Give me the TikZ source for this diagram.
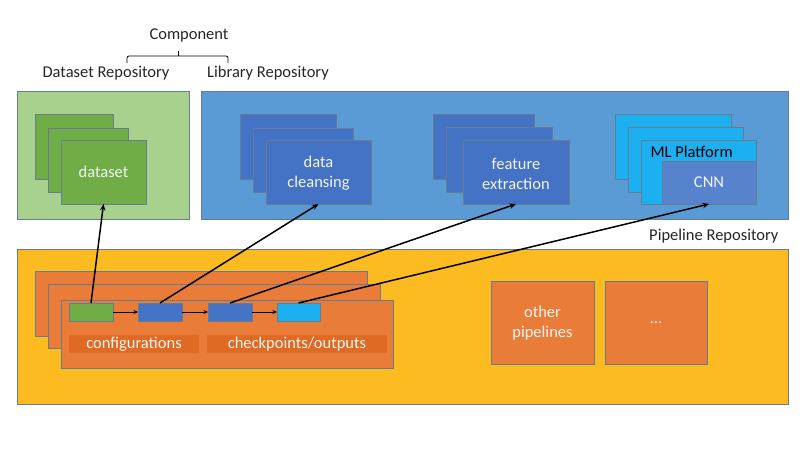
\documentclass[tikz,border=0pt]{standalone}
\usepackage{fontspec}
\setmainfont{Carlito}
\usetikzlibrary{shadows,arrows.meta}
\definecolor{lgreen}{HTML}{A9D18E}
\definecolor{dgreen}{HTML}{70AD47}
\definecolor{lblue}{HTML}{5B9BD5}
\definecolor{dblue}{HTML}{4472C4}
\definecolor{cyanbox}{HTML}{1CB0F0}
\definecolor{cnnblue}{HTML}{5683CC}
\definecolor{yellowbg}{HTML}{FDBB22}
\definecolor{orangebox}{HTML}{EA7C3A}
\definecolor{orangelab}{HTML}{DF6A24}
\definecolor{edgecol}{HTML}{687C90}
\definecolor{whitetext}{HTML}{F4F4F4}
\tikzset{
  base/.style={draw=edgecol, line width=0.6pt, inner sep=0pt, outer sep=0pt, anchor=north west,
    drop shadow={shadow xshift=1.2pt, shadow yshift=-1.2pt, opacity=0.35}},
  greenouter/.style={base, fill=lgreen},
  blueouter/.style={base, fill=lblue},
  yellowouter/.style={base, fill=yellowbg},
  gbox/.style={base, fill=dgreen},
  bbox/.style={base, fill=dblue},
  cbox/.style={base, fill=cyanbox},
  cnnbox/.style={base, fill=cnnblue},
  obox/.style={base, fill=orangebox},
  labbox/.style={fill=orangelab, inner sep=0pt, outer sep=0pt, anchor=north west},
  intext/.style={text=whitetext, font=\fontsize{16.5}{20}\selectfont, align=center},
  plain/.style={font=\fontsize{16.5}{20}\selectfont, text=black!85},
  arr/.style={-{Stealth[length=6.5pt,width=5.5pt]}, line width=1.5pt, black},
  sarr/.style={-{Stealth[length=4.5pt,width=4pt]}, line width=0.9pt, black},
}
\begin{document}
\begin{tikzpicture}[x=1pt,y=-1pt]
\useasboundingbox[fill=white] (0,0) rectangle (808,455);

% titles
\node[plain] (comp) at (189,35) {Component};
\draw[line width=0.8pt, rounded corners=2pt] (127,63) -- (127,56) -- (228,56) -- (228,63);
\draw[line width=0.8pt] (178,56) -- (178,51);
\node[plain] (dsr) at (106,73) {Dataset Repository};
\node[plain] (lbr) at (268,73) {Library Repository};

% outer areas
\node[greenouter, minimum width=172pt, minimum height=128pt] (gout) at (17,91) {};
\node[blueouter, minimum width=587pt, minimum height=128pt] (bout) at (201,91) {};
\node[yellowouter, minimum width=771pt, minimum height=155pt] (yout) at (17,249) {};
\node[plain, anchor=east] (plr) at (782,236) {Pipeline Repository};

% dataset stack
\node[gbox, minimum width=78pt, minimum height=65pt] (g1) at (35,114) {};
\node[gbox, minimum width=80pt, minimum height=64pt] (g2) at (48,128) {};
\node[gbox, minimum width=85pt, minimum height=64pt] (g3) at (61,140) {};
\node[intext] (gt) at (g3.center) {dataset};

% data cleansing stack
\node[bbox, minimum width=96pt, minimum height=65pt] (dc1) at (240,114) {};
\node[bbox, minimum width=100pt, minimum height=64pt] (dc2) at (253,128) {};
\node[bbox, minimum width=105pt, minimum height=64pt] (dc3) at (266,140) {};
\node[intext] (dct) at ([yshift=-1.5pt]dc3.center) {data\\cleansing};

% feature extraction stack
\node[bbox, minimum width=101pt, minimum height=65pt] (fe1) at (433,114) {};
\node[bbox, minimum width=106pt, minimum height=65pt] (fe2) at (446,127) {};
\node[bbox, minimum width=106pt, minimum height=64pt] (fe3) at (463,140) {};
\node[intext] (fet) at ([yshift=-1.5pt]fe3.center) {feature\\extraction};

% ML platform stack
\node[cbox, minimum width=116pt, minimum height=65pt] (ml1) at (615,114) {};
\node[cbox, minimum width=115pt, minimum height=65pt] (ml2) at (628,127) {};
\node[cbox, minimum width=115pt, minimum height=64pt] (ml3) at (641,140) {};
\node[cnnbox, minimum width=94pt, minimum height=43pt] (cnn) at (662,161) {};
\node[plain, anchor=west, text=black] (mlt) at (647,152) {ML Platform};
\node[intext] (cnnt) at (cnn.center) {CNN};

% pipeline stack
\node[obox, minimum width=332pt, minimum height=65pt] (p1) at (35,271) {};
\node[obox, minimum width=332pt, minimum height=64pt] (p2) at (48,284) {};
\node[obox, minimum width=332pt, minimum height=68pt] (p3) at (61,300) {};
\node[gbox, minimum width=44pt, minimum height=18pt] (sg) at (69,303) {};
\node[bbox, minimum width=44pt, minimum height=18pt] (sb1) at (138,303) {};
\node[bbox, minimum width=44pt, minimum height=18pt] (sb2) at (208,303) {};
\node[cbox, minimum width=43pt, minimum height=18pt] (sc) at (277,303) {};
\node[labbox, minimum width=130pt, minimum height=18pt] (lc) at (69,335) {};
\node[labbox, minimum width=180pt, minimum height=18pt] (lk) at (207,335) {};
\node[intext] (lct) at (lc.center) {configurations};
\node[intext] (lkt) at (lk.center) {checkpoints/outputs};

% other pipelines
\node[obox, minimum width=103pt, minimum height=83pt] (op) at (491,281) {};
\node[intext] (opt) at ([yshift=-1pt]op.center) {other\\pipelines};
\node[obox, minimum width=102pt, minimum height=83pt] (dots) at (605,281) {};
\node[intext] (dotst) at (dots.center) {…};

% chain arrows
\draw[sarr] (sg.east) -- (sb1.west);
\draw[sarr] (sb1.east) -- (sb2.west);
\draw[sarr] (sb2.east) -- (sc.west);

% links
\draw[arr] (sg.north) -- (g3.south);
\draw[arr] (sb1.north) -- (dc3.south);
\draw[arr] (sb2.north) -- (fe3.south);
\draw[arr] (sc.north) -- (cnn.south);
\end{tikzpicture}
\end{document}
